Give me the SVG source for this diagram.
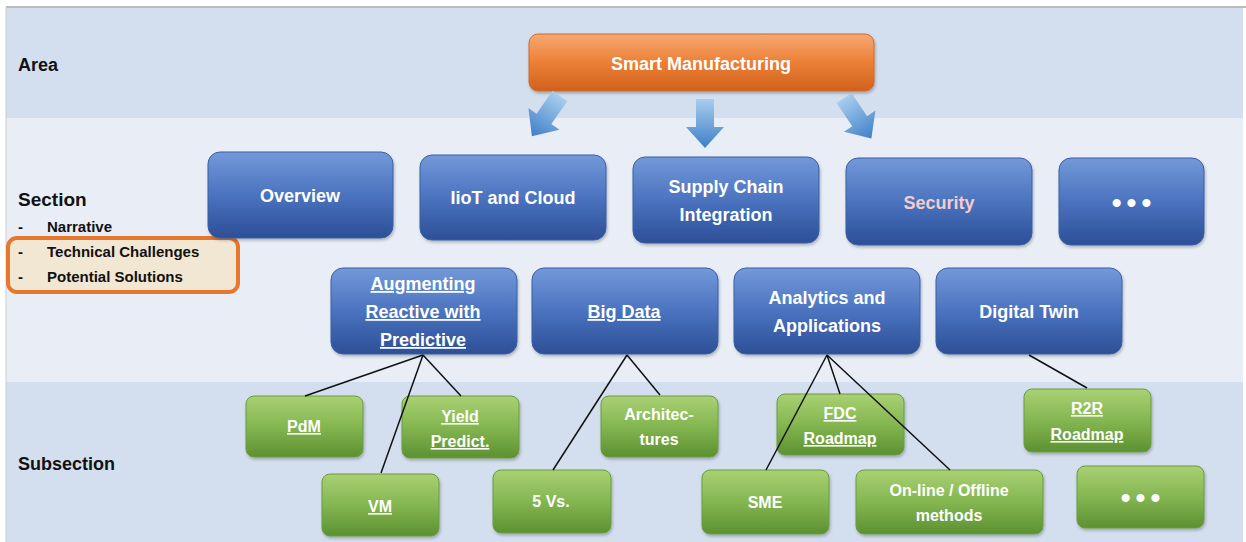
<svg xmlns="http://www.w3.org/2000/svg" width="1246" height="542" viewBox="0 0 1246 542">
<defs>
<linearGradient id="gBlue" x1="0" y1="0" x2="0" y2="1">
<stop offset="0" stop-color="#7399d9"/><stop offset="0.5" stop-color="#4b73bf"/><stop offset="1" stop-color="#2c4f97"/>
</linearGradient>
<linearGradient id="gGreen" x1="0" y1="0" x2="0" y2="1">
<stop offset="0" stop-color="#a9d173"/><stop offset="0.5" stop-color="#84b651"/><stop offset="1" stop-color="#5c9131"/>
</linearGradient>
<linearGradient id="gOrange" x1="0" y1="0" x2="0" y2="1">
<stop offset="0" stop-color="#f6a872"/><stop offset="0.5" stop-color="#ec7f36"/><stop offset="1" stop-color="#d0611c"/>
</linearGradient>
<linearGradient id="gArrow" x1="0" y1="0" x2="0" y2="1">
<stop offset="0" stop-color="#a8cdee"/><stop offset="1" stop-color="#3f80c8"/>
</linearGradient>
<filter id="sh" x="-10%" y="-10%" width="130%" height="140%">
<feDropShadow dx="1" dy="2" stdDeviation="1.5" flood-color="#000" flood-opacity="0.25"/>
</filter>
<path id="arr" d="M-9,0 L9,0 L9,28 L19,28 L0,49 L-19,28 L-9,28 Z"/>
</defs>
<style>
.lbl{font-family:"Liberation Sans",Arial,sans-serif;font-weight:bold;fill:#111}
.bt{font-family:"Liberation Sans",Arial,sans-serif;font-weight:bold;font-size:18px;fill:#fff;text-anchor:middle}
.gt{font-family:"Liberation Sans",Arial,sans-serif;font-weight:bold;font-size:16px;fill:#fff;text-anchor:middle}
.dots{font-family:"Liberation Sans",Arial,sans-serif;font-weight:bold;font-size:28px;fill:#fff;text-anchor:middle;letter-spacing:5px}
.u{text-decoration:underline}
.blue{fill:url(#gBlue);stroke:#3a5fa6;stroke-width:1;filter:url(#sh)}
.green{fill:url(#gGreen);stroke:#6a9c40;stroke-width:1;filter:url(#sh)}
.con{stroke:#111;stroke-width:1.5;fill:none}
</style>
<rect x="0" y="0" width="1246" height="542" fill="#fff"/>
<rect x="6" y="8" width="1237" height="110" fill="#d3dfee"/>
<rect x="6" y="118" width="1237" height="264" fill="#e9eef6"/>
<rect x="6" y="382" width="1237" height="160" fill="#d3dfee"/>
<line x1="6" y1="7" x2="1246" y2="7" stroke="#bbb" stroke-width="2"/>
<line x1="6" y1="7" x2="6" y2="542" stroke="#ccc" stroke-width="1"/>

<g id="labels">
<text class="lbl" x="18" y="71" font-size="18">Area</text>
<text class="lbl" x="18" y="206" font-size="19">Section</text>
<text class="lbl" x="18" y="232" font-size="15">-</text>
<text class="lbl" x="47" y="232" font-size="15">Narrative</text>
<text class="lbl" x="18" y="470" font-size="18">Subsection</text>
</g>
<g id="highlight">
<rect x="8" y="238" width="230" height="54" rx="9" fill="#f2e7d3" stroke="#e8772e" stroke-width="4"/>
<text class="lbl" x="18" y="257" font-size="15">-</text>
<text class="lbl" x="47" y="257" font-size="15">Technical Challenges</text>
<text class="lbl" x="18" y="282" font-size="15">-</text>
<text class="lbl" x="47" y="282" font-size="15">Potential Solutions</text>
</g>

<g id="smart-manufacturing">
<rect x="529" y="34" width="345" height="57" rx="9" fill="url(#gOrange)" stroke="#d06a28" filter="url(#sh)"/>
<text class="bt" x="701" y="70" font-size="19">Smart Manufacturing</text>
</g>

<g id="overview"><rect class="blue" x="208" y="152" width="185" height="86" rx="12"/><text class="bt" x="300" y="202" font-size="19">Overview</text></g>
<g id="iiot"><rect class="blue" x="420" y="155" width="186" height="85" rx="12"/><text class="bt" x="513" y="204" font-size="19">IioT and Cloud</text></g>
<g id="supply-chain"><rect class="blue" x="633" y="157" width="186" height="86" rx="12"/><text class="bt" x="726" y="193" font-size="19">Supply Chain</text><text class="bt" x="726" y="221" font-size="19">Integration</text></g>
<g id="security"><rect class="blue" x="846" y="158" width="186" height="87" rx="12"/><text class="bt" x="939" y="209" font-size="19" style="fill:#f4cccc">Security</text></g>
<g id="more-sections"><rect class="blue" x="1059" y="158" width="145" height="87" rx="12"/><text class="dots" x="1134" y="212">•••</text></g>

<g id="augmenting"><rect class="blue" x="331" y="268" width="186" height="86" rx="12"/>
<text class="bt u" x="423" y="290">Augmenting</text><text class="bt u" x="423" y="318">Reactive with</text><text class="bt u" x="423" y="346">Predictive</text></g>
<g id="big-data"><rect class="blue" x="532" y="268" width="186" height="86" rx="12"/><text class="bt u" x="624" y="318">Big Data</text></g>
<g id="analytics"><rect class="blue" x="734" y="268" width="186" height="86" rx="12"/><text class="bt" x="827" y="304">Analytics and</text><text class="bt" x="827" y="332">Applications</text></g>
<g id="digital-twin"><rect class="blue" x="936" y="268" width="186" height="86" rx="12"/><text class="bt" x="1029" y="318">Digital Twin</text></g>

<g id="pdm"><rect class="green" x="246" y="396" width="117" height="61" rx="8"/><text class="gt u" x="304" y="432">PdM</text></g>
<g id="yield"><rect class="green" x="402" y="396" width="117" height="62" rx="8"/><text class="gt u" x="460" y="422">Yield</text><text class="gt u" x="460" y="447">Predict.</text></g>
<g id="vm"><rect class="green" x="322" y="474" width="117" height="62" rx="8"/><text class="gt u" x="380" y="512">VM</text></g>
<g id="architectures"><rect class="green" x="601" y="396" width="117" height="61" rx="8"/><text class="gt" x="659" y="420">Architec-</text><text class="gt" x="659" y="445">tures</text></g>
<g id="five-vs"><rect class="green" x="493" y="470" width="118" height="63" rx="8"/><text class="gt" x="551" y="507">5 Vs.</text></g>
<g id="fdc"><rect class="green" x="777" y="394" width="127" height="61" rx="8"/><text class="gt u" x="840" y="419">FDC</text><text class="gt u" x="840" y="444">Roadmap</text></g>
<g id="r2r"><rect class="green" x="1024" y="389" width="127" height="63" rx="8"/><text class="gt u" x="1087" y="414">R2R</text><text class="gt u" x="1087" y="440">Roadmap</text></g>
<g id="sme"><rect class="green" x="702" y="470" width="127" height="64" rx="8"/><text class="gt" x="765" y="508">SME</text></g>
<g id="online"><rect class="green" x="856" y="470" width="187" height="64" rx="8"/><text class="gt" x="949" y="496">On-line / Offline</text><text class="gt" x="949" y="521">methods</text></g>
<g id="more-subsections"><rect class="green" x="1077" y="466" width="127" height="62" rx="8"/><text class="dots" x="1143" y="507">•••</text></g>

<g id="connectors">
<use href="#arr" transform="translate(560,96) rotate(35)" fill="url(#gArrow)"/>
<use href="#arr" transform="translate(705,99)" fill="url(#gArrow)"/>
<use href="#arr" transform="translate(844,98) rotate(-34)" fill="url(#gArrow)"/>
<line class="con" x1="423" y1="355" x2="305" y2="396"/>
<line class="con" x1="423" y1="355" x2="461" y2="396"/>
<line class="con" x1="423" y1="355" x2="381" y2="473"/>
<line class="con" x1="627" y1="355" x2="553" y2="470"/>
<line class="con" x1="627" y1="355" x2="660" y2="395"/>
<line class="con" x1="827" y1="355" x2="766" y2="470"/>
<line class="con" x1="827" y1="355" x2="840" y2="394"/>
<line class="con" x1="827" y1="355" x2="950" y2="470"/>
<line class="con" x1="1029" y1="355" x2="1087" y2="388"/>
</g>
</svg>
